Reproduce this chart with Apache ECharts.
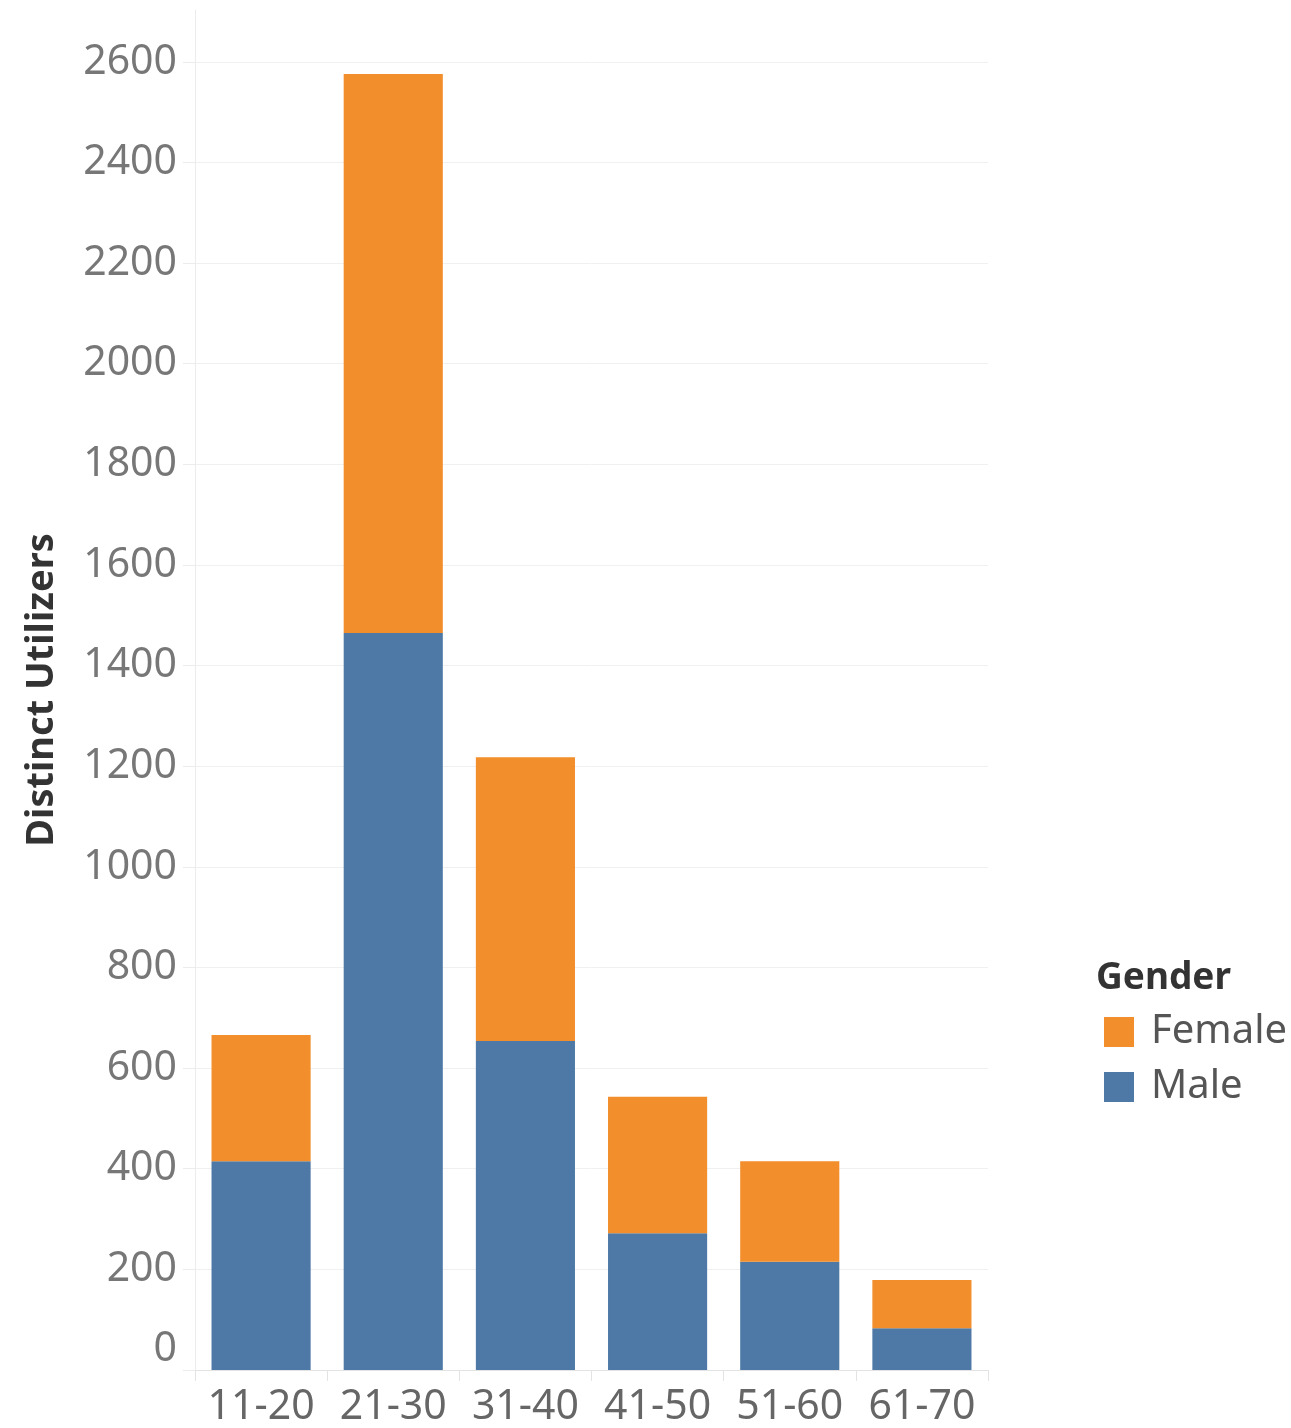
<!DOCTYPE html>
<html>
<head>
<meta charset="utf-8">
<script src="https://cdn.jsdelivr.net/npm/echarts@6/dist/echarts.min.js"></script>
<style>
    html, body { margin: 0; padding: 0; background: #fff; }
    #container { width: 1291px; height: 1428px; }
</style>
</head>
<body>
<div id="container"></div>
<script>
var ageGroups = ['11-20', '21-30', '31-40', '41-50', '51-60', '61-70'];
var maleValues = [415, 1465, 654, 272, 215, 83];
var femaleValues = [251, 1111, 564, 271, 200, 96];
var legendOrder = ['Female', 'Male'];

var dom = document.getElementById("container");
var myChart = echarts.init(dom);
var labelFont = '"Noto Sans", "Open Sans", sans-serif';

option = {
    animation: false,
    title: {
        text: 'Gender',
        left: 1091,
        top: 955,
        textStyle: {
            fontFamily: labelFont,
            fontSize: 37,
            fontWeight: 'bold',
            color: '#333'
        }
    },
    legend: {
        data: legendOrder,
        orient: 'vertical',
        left: 1099,
        top: 1007,
        itemWidth: 30,
        itemHeight: 30,
        itemGap: 15,
        icon: 'rect',
        textStyle: {
            fontFamily: labelFont,
            fontSize: 40,
            color: '#555',
            padding: [0, 0, 0, 12]
        }
    },
    grid: {
        left: 195,
        right: 303,
        top: 10,
        bottom: 57,
        containLabel: false
    },
    xAxis: {
        type: 'category',
        data: ageGroups,
        axisLine: { lineStyle: { color: '#e3e3e3', width: 1 } },
        axisTick: { show: true, interval: 0, length: 11, lineStyle: { color: '#e3e3e3' } },
        axisLabel: {
            interval: 0,
            hideOverlap: false,
            fontFamily: labelFont,
            fontSize: 41,
            color: '#666',
            margin: 17
        }
    },
    yAxis: {
        type: 'value',
        min: 0,
        max: 2703,
        interval: 200,
        name: 'Distinct Utilizers',
        nameLocation: 'middle',
        nameGap: 134,
        nameTextStyle: {
            fontFamily: labelFont,
            fontSize: 38,
            fontWeight: 'bold',
            color: '#333'
        },
        axisLine: { show: true, lineStyle: { color: '#ececec' } },
        axisTick: { show: true, length: 12, lineStyle: { color: '#ececec' } },
        splitLine: {
            show: true,
            showMinLine: false,
            showMaxLine: false,
            lineStyle: { color: '#f0f0f0' }
        },
        axisLabel: {
            fontFamily: labelFont,
            fontSize: 41,
            color: '#777',
            margin: 18,
            showMaxLabel: false,
            verticalAlignMinLabel: 'bottom',
            formatter: function (v) { return v % 200 === 0 ? String(v) : ''; }
        }
    },
    series: [{
        name: 'Male',
        type: 'bar',
        stack: 'total',
        barWidth: '75%',
        itemStyle: { color: '#4e79a7' },
        data: maleValues
    }, {
        name: 'Female',
        type: 'bar',
        stack: 'total',
        barWidth: '75%',
        itemStyle: { color: '#f28e2b' },
        data: femaleValues
    }]
};
if (option && typeof option === "object") {
    myChart.setOption(option, true);
}
</script>
</body>
</html>
